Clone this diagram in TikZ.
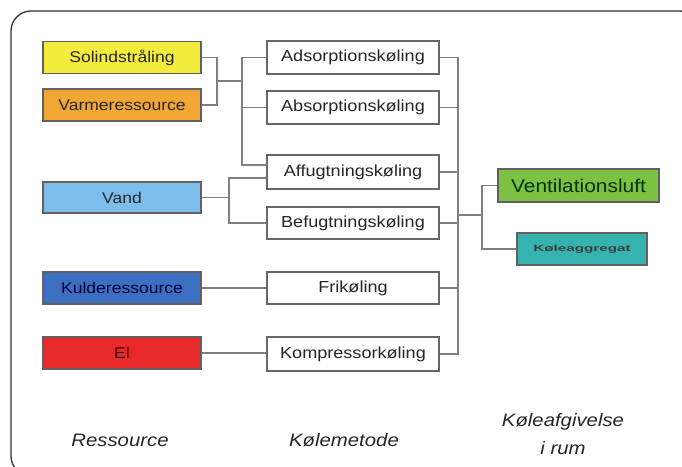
\documentclass[tikz,border=0pt]{standalone}
\usepackage{fontspec}
\setmainfont{Liberation Sans}[FakeStretch=1.13]
\usetikzlibrary{calc}
\definecolor{cyel}{HTML}{F4EC3C}
\definecolor{corg}{HTML}{F2A634}
\definecolor{clbl}{HTML}{7CBDEB}
\definecolor{cblu}{HTML}{3C6FC2}
\definecolor{cred}{HTML}{E82A2A}
\definecolor{cgrn}{HTML}{7CC142}
\definecolor{ctea}{HTML}{36B3AE}
\definecolor{ctxt}{HTML}{262626}
\definecolor{cline}{HTML}{808080}
\tikzset{
  resbox/.style={draw=black!62, line width=1.6pt, minimum width=158pt, minimum height=32pt, inner sep=0pt, font=\fontsize{15.5}{17}\selectfont, text=ctxt},
  metbox/.style={draw=black!60, line width=1.3pt, fill=white, minimum width=172pt, minimum height=33pt, inner sep=0pt, font=\fontsize{16}{17}\selectfont, text=ctxt},
  conn/.style={draw=cline, line width=1.3pt},
  colhead/.style={font=\fontsize{18}{21}\selectfont\itshape, text=ctxt, align=center, inner sep=0pt}
}
\begin{document}
\begin{tikzpicture}[x=1pt,y=-1pt]
\useasboundingbox (0,0) rectangle (682,466);
\begin{scope}
\clip (0,0) rectangle (682,466);
\draw[rounded corners=20pt, line width=1.3pt, draw=black!80] (11,11) rectangle (700,476);
\end{scope}
% resources
\node[resbox, fill=cyel] (sol) at (122,57.5) {Solindstråling};
\node[resbox, fill=corg] (varm) at (122,105) {Varmeressource};
\node[resbox, fill=clbl, minimum height=31pt] (vand) at (122,197.5) {Vand};
\node[resbox, fill=cblu, text=black!80!blue] (kulde) at (122,288) {Kulderessource};
\node[resbox, fill=cred, text=black!75!red] (el) at (122,353) {El};
% methods
\node[metbox] (ads) at (353,57.5) {Adsorptionskøling};
\node[metbox] (abs) at (353,107.5) {Absorptionskøling};
\node[metbox, minimum height=34pt] (aff) at (353,172) {Affugtningskøling};
\node[metbox, minimum height=32pt] (bef) at (353,223) {Befugtningskøling};
\node[metbox, minimum height=32pt] (fri) at (353,288) {Frikøling};
\node[metbox, minimum height=34pt] (komp) at (353,354) {Kompressorkøling};
% delivery
\node[draw=black!62, line width=1.6pt, fill=cgrn, minimum width=161pt, minimum height=33pt, inner sep=0pt, font=\fontsize{18.5}{20}\selectfont, text=black!80!green] (vent) at (578.5,185.5) {Ventilationsluft};
\node[draw=black!62, line width=1.6pt, fill=ctea, minimum width=130pt, minimum height=32pt, inner sep=0pt, font=\fontsize{9}{10}\selectfont\bfseries, text=black!85!cyan] (kol) at (582,249) {\scalebox{1.5}[1]{Køleaggregat}};
% headings
\node[colhead] (h1) at (120,440) {Ressource};
\node[colhead] (h2) at (344,440) {Kølemetode};
\node[colhead] (h3) at (563,422) {Køleafgivelse};
\node[colhead] (h4) at (563,448) {i rum};
% junction coordinates
\coordinate (j1) at (217,81);
\coordinate (lb) at (242,81);
\coordinate (vb) at (229,197.5);
\coordinate (rb) at (458,215);
\coordinate (j5) at (482,215);
\coordinate (affin1) at ($(aff.west)+(0,-7)$);
\coordinate (affin2) at ($(aff.west)+(0,6)$);
% left connectors
\draw[conn] (sol.east) -| (j1) |- (varm.east);
\draw[conn] (j1) -- (lb);
\draw[conn] (ads.west) -| (lb |- affin1) -- (affin1);
\draw[conn] (abs.west) -- (abs.west -| lb);
\draw[conn] (vand.east) -- (vb);
\draw[conn] (affin2) -| (vb |- bef.west) -- (bef.west);
\draw[conn] (kulde.east) -- (fri.west);
\draw[conn] (el.east) -- (el.east -| komp.west);
% right connectors
\draw[conn] (ads.east) -| (rb |- komp.east) -- (komp.east);
\draw[conn] (abs.east) -- (abs.east -| rb);
\draw[conn] (aff.east) -- (aff.east -| rb);
\draw[conn] (bef.east) -- (bef.east -| rb);
\draw[conn] (fri.east) -- (fri.east -| rb);
\draw[conn] (rb) -- (j5);
\draw[conn] (vent.west) -| (j5) |- (kol.west);
\end{tikzpicture}
\end{document}
